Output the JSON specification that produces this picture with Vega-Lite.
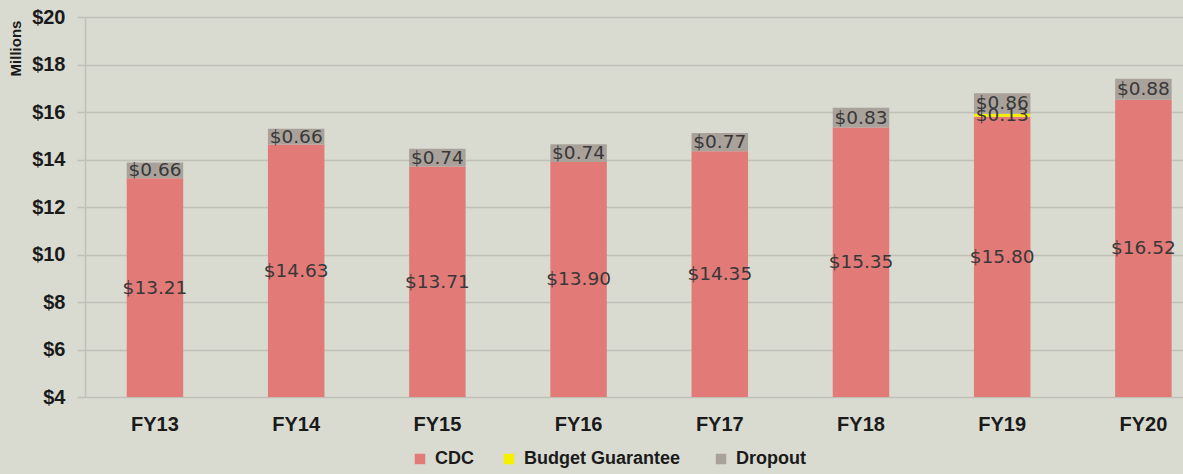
{
  "$schema": "https://vega.github.io/schema/vega-lite/v6.json",
  "width": 1098,
  "height": 380,
  "autosize": {"type": "none"},
  "padding": {"left": 85, "top": 17, "right": 0, "bottom": 77},
  "background": "#d9dad0",
  "config": {"view": {"stroke": null}, "font": "Liberation Sans"},
  "data": {"values": [
    {"year": "FY13", "component": "CDC", "amount": 13.21},
    {"year": "FY13", "component": "Dropout", "amount": 0.66},
    {"year": "FY14", "component": "CDC", "amount": 14.63},
    {"year": "FY14", "component": "Dropout", "amount": 0.66},
    {"year": "FY15", "component": "CDC", "amount": 13.71},
    {"year": "FY15", "component": "Dropout", "amount": 0.74},
    {"year": "FY16", "component": "CDC", "amount": 13.90},
    {"year": "FY16", "component": "Dropout", "amount": 0.74},
    {"year": "FY17", "component": "CDC", "amount": 14.35},
    {"year": "FY17", "component": "Dropout", "amount": 0.77},
    {"year": "FY18", "component": "CDC", "amount": 15.35},
    {"year": "FY18", "component": "Dropout", "amount": 0.83},
    {"year": "FY19", "component": "CDC", "amount": 15.80},
    {"year": "FY19", "component": "Budget  Guarantee", "amount": 0.13},
    {"year": "FY19", "component": "Dropout", "amount": 0.86},
    {"year": "FY20", "component": "CDC", "amount": 16.52},
    {"year": "FY20", "component": "Dropout", "amount": 0.88}
  ]},
  "transform": [
    {"calculate": "indexof(['CDC','Budget  Guarantee','Dropout'], datum.component)", "as": "rank"},
    {"stack": "amount", "groupby": ["year"], "sort": [{"field": "rank", "order": "ascending"}], "as": ["v0", "v1"]},
    {"calculate": "(max(datum.v0, 4) + datum.v1) / 2", "as": "mid"}
  ],
  "encoding": {
    "x": {
      "field": "year",
      "type": "nominal",
      "sort": null,
      "scale": {"paddingInner": 0.6, "paddingOuter": 0.188, "align": 0.786},
      "axis": {
        "title": null,
        "labelAngle": 0,
        "domain": false,
        "ticks": false,
        "grid": false,
        "labelFont": "Liberation Sans",
        "labelFontWeight": "bold",
        "labelFontSize": 20,
        "labelColor": "#1a1a1a",
        "labelPadding": 17
      }
    }
  },
  "layer": [
    {
      "mark": {"type": "bar"},
      "encoding": {
        "y": {
          "field": "v0",
          "type": "quantitative",
          "scale": {"domain": [4, 20], "clamp": true, "zero": false, "nice": false},
          "axis": {
            "title": "Millions",
            "titleFont": "Liberation Sans",
            "titleFontWeight": "bold",
            "titleFontSize": 15,
            "titleColor": "#1a1a1a",
            "titleAngle": 270,
            "titleAlign": "center",
            "titleBaseline": "middle",
            "titleX": -70,
            "titleY": 31,
            "values": [4, 6, 8, 10, 12, 14, 16, 18, 20],
            "labelExpr": "'$' + datum.value",
            "labelFont": "Liberation Sans",
            "labelFontWeight": "bold",
            "labelFontSize": 20,
            "labelColor": "#1a1a1a",
            "labelPadding": 12,
            "tickSize": 8,
            "tickColor": "#c0c0b6",
            "tickWidth": 1.5,
            "domainColor": "#c0c0b6",
            "domainWidth": 1.5,
            "grid": true,
            "gridColor": "#c0c0b6",
            "gridWidth": 1.5
          }
        },
        "y2": {"field": "v1"},
        "color": {
          "field": "component",
          "type": "nominal",
          "scale": {
            "domain": ["CDC", "Budget  Guarantee", "Dropout"],
            "range": ["#e27a78", "#f5f000", "#a9a29b"]
          },
          "legend": {
            "title": null,
            "orient": "none",
            "legendX": 326,
            "legendY": 433,
            "direction": "horizontal",
            "symbolType": "square",
            "symbolSize": 110,
            "symbolStrokeWidth": 0,
            "labelFont": "Liberation Sans",
            "labelFontWeight": "bold",
            "labelFontSize": 18,
            "labelColor": "#1a1a1a",
            "labelOffset": 6,
            "labelLimit": 0,
            "columnPadding": 26
          }
        }
      }
    },
    {
      "mark": {"type": "text", "font": "DejaVu Sans", "fontSize": 18.5, "color": "#383838"},
      "encoding": {
        "y": {"field": "mid", "type": "quantitative"},
        "text": {"field": "amount", "type": "quantitative", "format": "$.2f"}
      }
    }
  ]
}
